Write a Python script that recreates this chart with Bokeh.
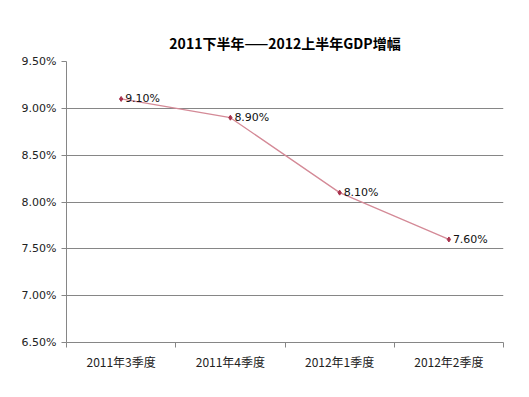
import numpy as np
from bokeh.plotting import figure
from bokeh.models import FixedTicker, NumeralTickFormatter, Range1d, ColumnDataSource, LabelSet
from bokeh.core.properties import value
from bokeh.embed import file_html
from bokeh.resources import INLINE

title_text = "2011下半年——2012上半年GDP增幅"
categories = ["2011年3季度", "2011年4季度", "2012年1季度", "2012年2季度"]
growth = [0.091, 0.089, 0.081, 0.076]
growth_labels = ["9.10%", "8.90%", "8.10%", "7.60%"]
y_ticks = [0.065, 0.07, 0.075, 0.08, 0.085, 0.09, 0.095]

n = len(categories)
xs = np.arange(n) + 0.5

p = figure(width=513, height=381, output_backend="svg", toolbar_location=None,
           x_range=Range1d(0, n), y_range=Range1d(0.065, 0.095),
           min_border_left=66, min_border_right=10, min_border_top=61, min_border_bottom=39)
p.outline_line_color = None
p.background_fill_color = "white"
p.border_fill_color = "white"

p.title.text = title_text
p.title.align = "center"
p.title.text_font = "Noto Sans CJK SC"
p.title.text_font_size = "14px"
p.title.text_font_style = "bold"
p.title.text_color = "#000000"
p.title.standoff = 18

# x axis
p.xaxis.ticker = FixedTicker(ticks=list(xs), minor_ticks=list(range(n + 1)))
p.xaxis.major_label_overrides = {float(x): c for x, c in zip(xs, categories)}
p.xaxis.major_tick_out = 0
p.xaxis.major_tick_in = 0
p.xaxis.minor_tick_out = 5
p.xaxis.minor_tick_in = 0
p.xaxis.minor_tick_line_color = "#868686"
p.xaxis.axis_line_color = "#868686"
p.xaxis.major_label_text_font = "Noto Sans CJK SC"
p.xaxis.major_label_text_font_size = "12px"
p.xaxis.major_label_text_color = "#222222"
p.xaxis.major_label_standoff = 5

# y axis
p.yaxis.ticker = FixedTicker(ticks=y_ticks, minor_ticks=[])
p.yaxis.formatter = NumeralTickFormatter(format="0.00%")
p.yaxis.major_tick_out = 5
p.yaxis.major_tick_in = 0
p.yaxis.major_tick_line_color = "#868686"
p.yaxis.axis_line_color = "#868686"
p.yaxis.major_label_text_font = "DejaVu Sans"
p.yaxis.major_label_text_font_size = "11px"
p.yaxis.major_label_text_color = "#222222"
p.yaxis.major_label_standoff = 5

p.xgrid.grid_line_color = None
p.ygrid.grid_line_color = "#868686"
p.ygrid.grid_line_width = 1

src = ColumnDataSource(dict(x=xs, y=growth, label=growth_labels))
p.line("x", "y", source=src, line_color="#d48a97", line_width=1.3)
p.scatter("x", "y", source=src, marker="diamond", size=5, color="#a8324d")

labels = LabelSet(x="x", y="y", text="label", source=src, x_offset=4, y_offset=0,
                  text_baseline="middle", text_font=value("DejaVu Sans"),
                  text_font_size="11px", text_color="#111111")
p.add_layout(labels)

open("out.html", "w").write(file_html(p, INLINE))
